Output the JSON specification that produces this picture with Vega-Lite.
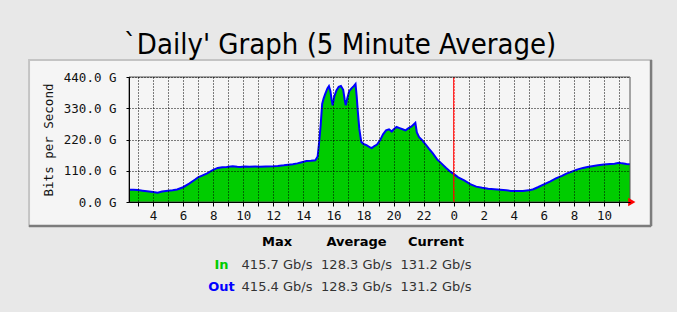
{
  "$schema": "https://vega.github.io/schema/vega-lite/v6.json",
  "background": "#e8e8e8",
  "padding": {"left": 27, "right": 28, "top": 30, "bottom": 0},
  "title": {"text": "`Daily' Graph (5 Minute Average)", "font": "DejaVu Sans Condensed", "fontSize": 29, "fontWeight": "normal", "color": "#000000", "anchor": "middle", "baseline": "alphabetic", "offset": -24},
  "config": {
    "view": {"stroke": null, "fill": "#f5f5f5"},
    "axis": {"labelFont": "DejaVu Sans Mono", "labelFontSize": 12.5, "labelColor": "#111111", "titleFont": "DejaVu Sans Mono", "titleFontSize": 12.5, "titleFontWeight": "normal", "titleColor": "#111111"}
  },
  "spacing": 0,
  "datasets": {
    "traffic": [
      {"t": 2.4, "in": 43, "out": 43}, {"t": 2.7, "in": 43, "out": 43}, {"t": 3.0, "in": 42, "out": 42},
      {"t": 3.3, "in": 40, "out": 40}, {"t": 3.6, "in": 38, "out": 38}, {"t": 4.0, "in": 35, "out": 35},
      {"t": 4.3, "in": 33, "out": 33}, {"t": 4.6, "in": 37, "out": 37}, {"t": 5.0, "in": 40, "out": 40},
      {"t": 5.3, "in": 41, "out": 41}, {"t": 5.6, "in": 44, "out": 44}, {"t": 6.0, "in": 52, "out": 52},
      {"t": 6.4, "in": 65, "out": 65}, {"t": 6.8, "in": 79, "out": 79}, {"t": 7.0, "in": 87, "out": 87},
      {"t": 7.3, "in": 94, "out": 94}, {"t": 7.6, "in": 101, "out": 101}, {"t": 8.0, "in": 113, "out": 113},
      {"t": 8.3, "in": 120, "out": 120}, {"t": 8.6, "in": 122, "out": 122}, {"t": 8.9, "in": 123, "out": 123},
      {"t": 9.3, "in": 126, "out": 126}, {"t": 9.6, "in": 124, "out": 124}, {"t": 9.8, "in": 123, "out": 123},
      {"t": 10.1, "in": 125, "out": 125}, {"t": 10.4, "in": 124, "out": 124}, {"t": 10.8, "in": 125, "out": 125},
      {"t": 11.1, "in": 124, "out": 124}, {"t": 11.5, "in": 125, "out": 125}, {"t": 12.0, "in": 126, "out": 126},
      {"t": 12.3, "in": 127, "out": 127}, {"t": 12.7, "in": 129, "out": 129}, {"t": 13.0, "in": 131, "out": 131},
      {"t": 13.3, "in": 133, "out": 133}, {"t": 13.6, "in": 136, "out": 136}, {"t": 13.9, "in": 140, "out": 140},
      {"t": 14.2, "in": 144, "out": 144}, {"t": 14.5, "in": 145, "out": 145}, {"t": 14.8, "in": 147, "out": 147},
      {"t": 14.95, "in": 160, "out": 160}, {"t": 15.05, "in": 210, "out": 210}, {"t": 15.15, "in": 270, "out": 270},
      {"t": 15.25, "in": 345, "out": 345}, {"t": 15.35, "in": 365, "out": 365}, {"t": 15.45, "in": 380, "out": 380},
      {"t": 15.6, "in": 400, "out": 400}, {"t": 15.7, "in": 408, "out": 408}, {"t": 15.8, "in": 390, "out": 390},
      {"t": 15.88, "in": 360, "out": 360}, {"t": 15.95, "in": 340, "out": 340}, {"t": 16.05, "in": 370, "out": 370},
      {"t": 16.2, "in": 393, "out": 393}, {"t": 16.35, "in": 405, "out": 405}, {"t": 16.5, "in": 408, "out": 408},
      {"t": 16.65, "in": 395, "out": 395}, {"t": 16.75, "in": 360, "out": 360}, {"t": 16.82, "in": 340, "out": 340},
      {"t": 16.92, "in": 364, "out": 364}, {"t": 17.05, "in": 390, "out": 390}, {"t": 17.2, "in": 400, "out": 400},
      {"t": 17.35, "in": 408, "out": 408}, {"t": 17.47, "in": 415.7, "out": 415.4}, {"t": 17.55, "in": 370, "out": 370},
      {"t": 17.62, "in": 320, "out": 320}, {"t": 17.72, "in": 258, "out": 258}, {"t": 17.85, "in": 212, "out": 212},
      {"t": 18.0, "in": 204, "out": 204}, {"t": 18.2, "in": 200, "out": 200}, {"t": 18.4, "in": 193, "out": 193},
      {"t": 18.55, "in": 190, "out": 190}, {"t": 18.7, "in": 196, "out": 196}, {"t": 18.9, "in": 202, "out": 202},
      {"t": 19.1, "in": 217, "out": 217}, {"t": 19.3, "in": 238, "out": 238}, {"t": 19.5, "in": 252, "out": 252},
      {"t": 19.7, "in": 256, "out": 256}, {"t": 19.88, "in": 248, "out": 248}, {"t": 20.0, "in": 255, "out": 255},
      {"t": 20.2, "in": 264, "out": 264}, {"t": 20.4, "in": 260, "out": 260}, {"t": 20.6, "in": 256, "out": 256},
      {"t": 20.8, "in": 252, "out": 252}, {"t": 21.0, "in": 260, "out": 260}, {"t": 21.2, "in": 266, "out": 266},
      {"t": 21.45, "in": 279, "out": 279}, {"t": 21.55, "in": 245, "out": 245}, {"t": 21.7, "in": 228, "out": 228},
      {"t": 21.9, "in": 218, "out": 218}, {"t": 22.1, "in": 205, "out": 205}, {"t": 22.35, "in": 188, "out": 188},
      {"t": 22.6, "in": 172, "out": 172}, {"t": 22.9, "in": 150, "out": 150}, {"t": 23.2, "in": 135, "out": 135},
      {"t": 23.5, "in": 120, "out": 120}, {"t": 23.8, "in": 106, "out": 106}, {"t": 24.0, "in": 99, "out": 99},
      {"t": 24.3, "in": 87, "out": 87}, {"t": 24.7, "in": 76, "out": 76}, {"t": 25.1, "in": 63, "out": 63},
      {"t": 25.5, "in": 54, "out": 54}, {"t": 25.9, "in": 50, "out": 50}, {"t": 26.3, "in": 47, "out": 47},
      {"t": 26.7, "in": 45, "out": 45}, {"t": 27.1, "in": 43, "out": 43}, {"t": 27.5, "in": 41, "out": 41},
      {"t": 27.8, "in": 39, "out": 39}, {"t": 28.2, "in": 39, "out": 39}, {"t": 28.6, "in": 39, "out": 39},
      {"t": 29.0, "in": 41, "out": 41}, {"t": 29.3, "in": 45, "out": 45}, {"t": 29.6, "in": 52, "out": 52},
      {"t": 30.0, "in": 62, "out": 62}, {"t": 30.4, "in": 72, "out": 72}, {"t": 30.8, "in": 83, "out": 83},
      {"t": 31.2, "in": 92, "out": 92}, {"t": 31.5, "in": 100, "out": 100}, {"t": 31.9, "in": 108, "out": 108},
      {"t": 32.2, "in": 114, "out": 114}, {"t": 32.6, "in": 120, "out": 120}, {"t": 32.9, "in": 123, "out": 123},
      {"t": 33.3, "in": 127, "out": 127}, {"t": 33.6, "in": 129, "out": 129}, {"t": 34.0, "in": 132, "out": 132},
      {"t": 34.4, "in": 134, "out": 134}, {"t": 34.7, "in": 135, "out": 135}, {"t": 35.0, "in": 138, "out": 138},
      {"t": 35.2, "in": 136, "out": 136}, {"t": 35.5, "in": 134, "out": 134}, {"t": 35.73, "in": 133, "out": 133}
    ],
    "legendtable": [
      {"kind": "head", "row": "head", "col": "Max", "text": "Max"},
      {"kind": "head", "row": "head", "col": "Average", "text": "Average"},
      {"kind": "head", "row": "head", "col": "Current", "text": "Current"},
      {"kind": "label", "row": "In", "col": "Max", "text": "In"},
      {"kind": "label", "row": "Out", "col": "Max", "text": "Out"},
      {"kind": "value", "row": "In", "col": "Max", "text": "415.7 Gb/s"},
      {"kind": "value", "row": "In", "col": "Average", "text": "128.3 Gb/s"},
      {"kind": "value", "row": "In", "col": "Current", "text": "131.2 Gb/s"},
      {"kind": "value", "row": "Out", "col": "Max", "text": "415.4 Gb/s"},
      {"kind": "value", "row": "Out", "col": "Average", "text": "128.3 Gb/s"},
      {"kind": "value", "row": "Out", "col": "Current", "text": "131.2 Gb/s"}
    ]
  },
  "vconcat": [
    {
      "width": 501,
      "height": 125,
      "layer": [
        {
          "data": {"values": [{}]},
          "mark": {"type": "rect", "fill": "#f5f5f5", "stroke": "#c4c4c4", "strokeWidth": 2, "clip": false},
          "encoding": {
            "x": {"datum": -4.25, "type": "quantitative", "scale": {"domain": [2.4, 35.73], "nice": false, "zero": false}},
            "x2": {"datum": 37.13},
            "y": {"datum": -84.5, "type": "quantitative", "scale": {"domain": [0, 440], "nice": false, "zero": true}},
            "y2": {"datum": 499.8}
          }
        },
        {
          "data": {"values": [{}]},
          "mark": {"type": "rule", "color": "#7c7c7c", "strokeWidth": 2.5},
          "encoding": {
            "x": {"datum": 37.13, "type": "quantitative"},
            "y": {"datum": -84.5, "type": "quantitative"},
            "y2": {"datum": 499.8}
          }
        },
        {
          "data": {"values": [{}]},
          "mark": {"type": "rule", "color": "#7c7c7c", "strokeWidth": 2.5},
          "encoding": {
            "x": {"datum": -4.25, "type": "quantitative"},
            "x2": {"datum": 37.13},
            "y": {"datum": -84.5, "type": "quantitative"}
          }
        },
        {
          "data": {"name": "traffic"},
          "mark": {"type": "area", "color": "#00cc00", "opacity": 1},
          "encoding": {
            "x": {
              "field": "t", "type": "quantitative",
              "axis": {
                "orient": "bottom", "title": null, "tickCount": 100,
                "values": [3,4,5,6,7,8,9,10,11,12,13,14,15,16,17,18,19,20,21,22,23,24,25,26,27,28,29,30,31,32,33,34,35],
                "labelExpr": "datum.value % 2 == 0 ? '' + (datum.value % 24) : ''",
                "labelFlush": false, "labelOverlap": false, "labelPadding": 3,
                "grid": true,
                "gridColor": {"condition": {"test": "datum.value == 24", "value": "#ff0000"}, "value": "#000000"},
                "gridDash": [1, 2], "gridWidth": 1, "gridOpacity": 1,
                "domainColor": "#000000", "domainWidth": 1,
                "tickColor": "#000000", "tickSize": 4, "tickWidth": 1,
                "zindex": 1
              }
            },
            "y": {
              "field": "in", "type": "quantitative",
              "axis": {
                "orient": "left", "title": "Bits per Second", "titlePadding": 8, "tickCount": 100,
                "values": [0, 110, 220, 330, 440],
                "labelExpr": "format(datum.value, '.1f') + ' G'",
                "labelOverlap": false, "labelPadding": 10, "labelFlush": false,
                "grid": true, "gridColor": "#000000", "gridDash": [1, 2], "gridWidth": 1, "gridOpacity": 1,
                "domainColor": "#000000", "domainWidth": 1,
                "tickColor": "#000000", "tickSize": 3, "tickWidth": 1,
                "zindex": 1
              }
            }
          }
        },
        {
          "data": {"name": "traffic"},
          "mark": {"type": "line", "color": "#0000ff", "strokeWidth": 2},
          "encoding": {
            "x": {"field": "t", "type": "quantitative"},
            "y": {"field": "out", "type": "quantitative"}
          }
        },
        {
          "data": {"values": [{}]},
          "mark": {"type": "rule", "color": "#ff0000", "strokeWidth": 1},
          "encoding": {
            "x": {"datum": 24, "type": "quantitative"},
            "y": {"datum": 0, "type": "quantitative"},
            "y2": {"datum": 440}
          }
        },
        {
          "data": {"values": [{}]},
          "mark": {"type": "rect", "fillOpacity": 0, "stroke": "#555555", "strokeWidth": 1},
          "encoding": {
            "x": {"datum": 2.4, "type": "quantitative"},
            "x2": {"datum": 35.73},
            "y": {"datum": 0, "type": "quantitative"},
            "y2": {"datum": 440}
          }
        },
        {
          "data": {"values": [{}]},
          "mark": {"type": "point", "shape": "triangle-right", "filled": true, "color": "#ff0000", "size": 70, "opacity": 1},
          "encoding": {
            "x": {"datum": 35.85, "type": "quantitative"},
            "y": {"datum": 0, "type": "quantitative"}
          }
        }
      ]
    },
    {
      "width": 522,
      "height": 85,
      "view": {"stroke": null, "fill": null},
      "data": {"name": "legendtable"},
      "encoding": {
        "x": {"field": "col", "type": "nominal", "scale": {"type": "point", "domain": ["Max", "Average", "Current"], "range": [148, 307], "padding": 0}, "axis": null},
        "y": {"field": "row", "type": "nominal", "scale": {"type": "point", "domain": ["head", "In", "Out"], "range": [14, 59], "padding": 0}, "axis": null}
      },
      "layer": [
        {
          "transform": [{"filter": "datum.kind === 'head'"}],
          "mark": {"type": "text", "font": "DejaVu Sans", "fontSize": 13, "fontWeight": "bold", "color": "#000000"},
          "encoding": {"text": {"field": "text"}}
        },
        {
          "transform": [{"filter": "datum.kind === 'value'"}],
          "mark": {"type": "text", "font": "DejaVu Sans", "fontSize": 13, "color": "#333333"},
          "encoding": {"text": {"field": "text"}}
        },
        {
          "transform": [{"filter": "datum.kind === 'label'"}],
          "mark": {"type": "text", "font": "DejaVu Sans", "fontSize": 13, "fontWeight": "bold", "dx": -55.5},
          "encoding": {
            "text": {"field": "text"},
            "color": {"field": "row", "type": "nominal", "scale": {"domain": ["In", "Out"], "range": ["#00cc00", "#0000ff"]}, "legend": null}
          }
        }
      ]
    }
  ]
}
